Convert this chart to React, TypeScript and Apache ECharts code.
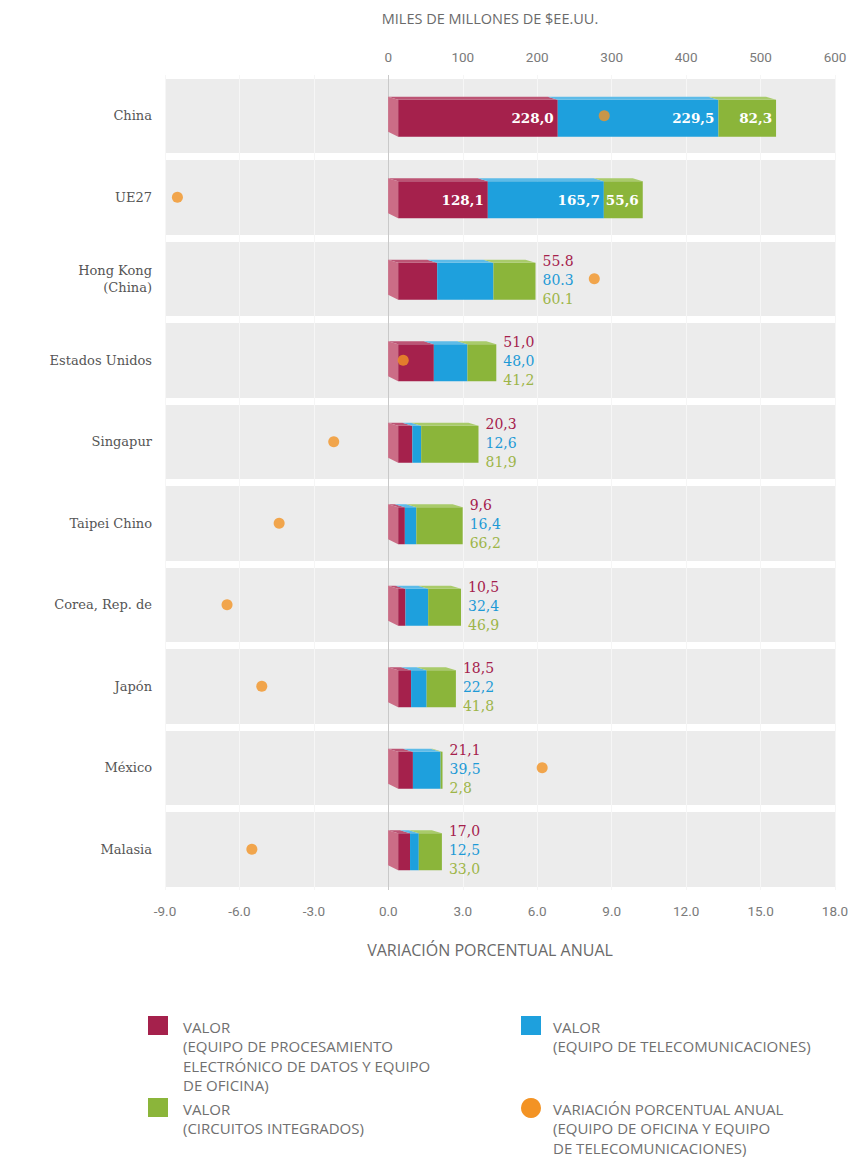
import React, { useEffect, useRef } from 'react';
import * as echarts from 'echarts';

const categories = ['China', 'UE27', 'Hong Kong\n(China)', 'Estados Unidos', 'Singapur', 'Taipei Chino', 'Corea, Rep. de', 'Japón', 'México', 'Malasia'];
const edpValues = [228.0, 128.1, 55.8, 51.0, 20.3, 9.6, 10.5, 18.5, 21.1, 17.0];
const telecomValues = [229.5, 165.7, 80.3, 48.0, 12.6, 16.4, 32.4, 22.2, 39.5, 12.5];
const icValues = [82.3, 55.6, 60.1, 41.2, 81.9, 66.2, 46.9, 41.8, 2.8, 33.0];
const changeValues = [8.7, -8.5, 8.3, 0.6, -2.2, -4.4, -6.5, -5.1, 6.2, -5.5];
const decimalSeparators = [',', ',', '.', ',', ',', ',', ',', ',', ',', ','];
const valueTicks = { min: -300, max: 600, interval: 100 };
const changeTicks = { min: -9, max: 18, interval: 3 };
const barScale = { min: -333, max: 624 };

const segColors = [
  { front: '#A5214C', top: '#BC5474', side: '#CB6D86', label: '#A5214C' },
  { front: '#1EA0DD', top: '#5DBBE8', side: '#5DBBE8', label: '#1E9AD6' },
  { front: '#8BB53A', top: '#A9CB6A', side: '#A9CB6A', label: '#9DB548' },
];
const segValues = [edpValues, telecomValues, icValues];

const fmt = (v: number, i: number) => v.toFixed(1).replace('.', decimalSeparators[i]);

export default function App() {
  const ref = useRef<HTMLDivElement>(null);
  useEffect(() => {
    document.body.style.margin = '0';
    const chart = echarts.init(ref.current!, null, { renderer: 'svg' });

    const makeRender = (seg: number) => (params: any, api: any) => {
      const i = api.value(2);
      const v0 = api.value(0);
      const v1 = api.value(1);
      const pz = api.coord([0, i]);
      const p0 = api.coord([v0, i]);
      const p1 = api.coord([v1, i]);
      const cy = p0[1] + 1;
      const H = 40, d = 10, t = 3;
      const ytop = cy - H / 2, ybot = cy + H / 2;
      const first = seg === 0;
      const c = segColors[seg];
      const children: any[] = [];
      children.push({
        type: 'rect',
        shape: { x: p0[0], y: ytop + t, width: Math.max(0, p1[0] - p0[0]), height: H - t },
        style: { fill: c.front },
      });
      children.push({
        type: 'polygon',
        shape: {
          points: [
            [p0[0] - d, ytop],
            [p1[0] - d, ytop],
            [p1[0], ytop + t],
            [p0[0], ytop + t],
          ],
        },
        style: { fill: c.top },
      });
      if (first) {
        children.push({
          type: 'polygon',
          shape: { points: [[pz[0] - d, ytop], [pz[0], ytop + t], [pz[0], ybot], [pz[0] - d, ybot - t - 2]] },
          style: { fill: c.side },
        });
      }
      const txt = fmt(segValues[seg][i], i);
      if (i < 2) {
        children.push({
          type: 'text',
          x: p1[0] - 4,
          y: cy + t / 2,
          style: {
            text: txt, fill: '#ffffff', font: 'bold 13.5px "DejaVu Serif", serif',
            textAlign: 'right', textVerticalAlign: 'middle', align: 'right', verticalAlign: 'middle',
          },
        });
      } else {
        const total = edpValues[i] + telecomValues[i] + icValues[i];
        const pe = api.coord([total, i]);
        children.push({
          type: 'text',
          x: pe[0] + 7,
          y: cy + (seg - 1) * 19,
          style: {
            text: txt, fill: c.label, font: '14px "DejaVu Serif", serif',
            textAlign: 'left', textVerticalAlign: 'middle', align: 'left', verticalAlign: 'middle',
          },
        });
      }
      return { type: 'group', children };
    };

    const segData = (seg: number) =>
      categories.map((_, i) => {
        let start = 0;
        for (let s = 0; s < seg; s++) start += segValues[s][i];
        return [start, start + segValues[seg][i], i];
      });

    const splitColors = [];
    for (let v = changeTicks.min; v <= changeTicks.max; v += changeTicks.interval) {
      splitColors.push(v === 0 ? '#C9C9C9' : '#F6F6F6');
    }

    const legendFont = '15px "Open Sans", Roboto, sans-serif';
    const legendColor = '#707070';
    const centered = { textAlign: 'center', textVerticalAlign: 'middle', align: 'center', verticalAlign: 'middle' };

    chart.setOption({
      animation: false,
      grid: { left: 165, right: 21, top: 75, bottom: 1159 - 890, containLabel: false },
      xAxis: [
        {
          type: 'value', position: 'bottom', min: changeTicks.min, max: changeTicks.max, interval: changeTicks.interval,
          axisLine: { show: false }, axisTick: { show: false },
          axisLabel: { formatter: (v: number) => v.toFixed(1), color: '#7A7A7A', fontSize: 13.5, margin: 14, fontFamily: 'Roboto, sans-serif' },
          splitLine: { show: true, lineStyle: { color: splitColors, width: 1 } },
        },
        {
          type: 'value', position: 'top', min: valueTicks.min, max: valueTicks.max, interval: valueTicks.interval,
          axisLine: { show: false }, axisTick: { show: false },
          axisLabel: { formatter: (v: number) => (v >= 0 ? String(v) : ''), color: '#7A7A7A', fontSize: 13.5, margin: 11, fontFamily: 'Roboto, sans-serif' },
          splitLine: { show: false },
        },
        {
          type: 'value', show: false, min: barScale.min, max: barScale.max,
          splitLine: { show: false },
        },
      ],
      yAxis: {
        type: 'category', data: categories, inverse: true,
        axisLine: { show: false }, axisTick: { show: false },
        axisLabel: { color: '#555', fontSize: 13, fontFamily: '"DejaVu Serif", serif', margin: 13, lineHeight: 17 },
        splitArea: { show: true, areaStyle: { color: ['#ECECEC'] } },
        splitLine: { show: true, lineStyle: { color: '#ffffff', width: 7 } },
      },
      series: [
        ...[0, 1, 2].map((seg) => ({
          type: 'custom', xAxisIndex: 2, yAxisIndex: 0, renderItem: makeRender(seg),
          encode: { x: [0, 1], y: 2 }, data: segData(seg), z: 3,
        })),
        {
          type: 'scatter', xAxisIndex: 0, yAxisIndex: 0, symbolSize: 11, z: 5,
          itemStyle: { color: '#F39324' },
          data: changeValues.map((v, i) => [v, i]),
        },
      ],
      graphic: [
        { type: 'text', x: 490, y: 18, style: { text: 'MILES DE MILLONES DE $EE.UU.', fill: '#6A6A6A', font: '14.5px "Open Sans", Roboto, sans-serif', ...centered } },
        { type: 'text', x: 490, y: 950, style: { text: 'VARIACIÓN PORCENTUAL ANUAL', fill: '#6A6A6A', font: '16px "Open Sans", Roboto, sans-serif', ...centered } },
        { type: 'rect', shape: { x: 148, y: 1016, width: 20, height: 19 }, style: { fill: segColors[0].front } },
        { type: 'text', x: 183, y: 1017, style: { text: 'VALOR\n(EQUIPO DE PROCESAMIENTO\nELECTRÓNICO DE DATOS Y EQUIPO\nDE OFICINA)', fill: legendColor, font: legendFont, lineHeight: 19.5 } },
        { type: 'rect', shape: { x: 521, y: 1016, width: 20, height: 19 }, style: { fill: segColors[1].front } },
        { type: 'text', x: 553, y: 1017, style: { text: 'VALOR\n(EQUIPO DE TELECOMUNICACIONES)', fill: legendColor, font: legendFont, lineHeight: 19.5 } },
        { type: 'rect', shape: { x: 148, y: 1098, width: 20, height: 19 }, style: { fill: segColors[2].front } },
        { type: 'text', x: 183, y: 1099, style: { text: 'VALOR\n(CIRCUITOS INTEGRADOS)', fill: legendColor, font: legendFont, lineHeight: 19.5 } },
        { type: 'circle', shape: { cx: 531, cy: 1108, r: 10 }, style: { fill: '#F39324' } },
        { type: 'text', x: 553, y: 1099, style: { text: 'VARIACIÓN PORCENTUAL ANUAL\n(EQUIPO DE OFICINA Y EQUIPO\nDE TELECOMUNICACIONES)', fill: legendColor, font: legendFont, lineHeight: 19.5 } },
      ],
    });
    return () => chart.dispose();
  }, []);
  return <div ref={ref} style={{ width: 856, height: 1159 }} />;
}
